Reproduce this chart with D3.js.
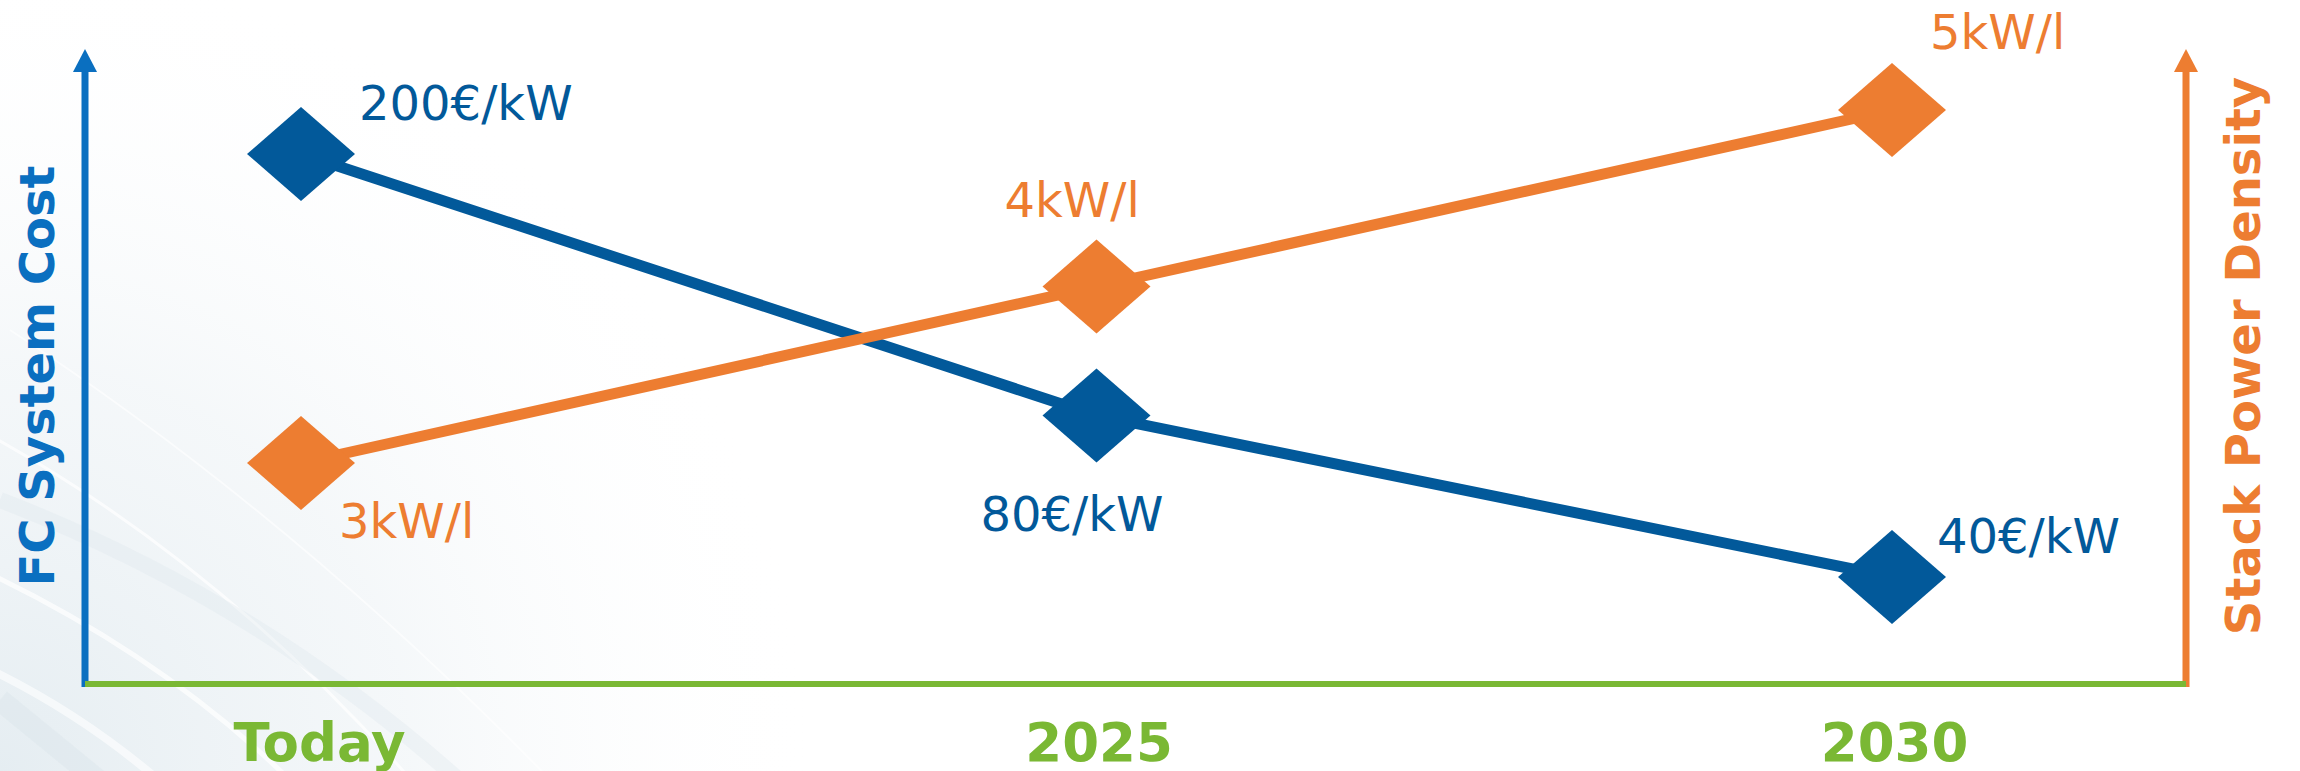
<!DOCTYPE html>
<html>
<head>
<meta charset="utf-8">
<script src="https://cdn.jsdelivr.net/npm/d3@7"></script>
<style>
  html, body { margin: 0; padding: 0; background: #ffffff; }
  svg { display: block; }
</style>
</head>
<body>
<script>
// Roadmap: fuel cell system cost vs. stack power density
const categories = ["Today", "2025", "2030"];
const costValues = [200, 80, 40];      // €/kW
const densityValues = [3, 4, 5];       // kW/l
const costAxisTitle = "FC System Cost";
const densityAxisTitle = "Stack Power Density";

const W = 2300, H = 771;
const colors = {
  cost: "#02599A",
  density: "#ED7D31",
  costAxis: "#0A6FC0",
  time: "#7AB834"
};
const font = "'DejaVu Sans', Verdana, sans-serif";

// value label offsets from each marker centre
const costLabelOffset = [[58, -34], [-116, 116], [45, -24]];
const densityLabelOffset = [[38, 75], [-92, -70], [38, -61]];

const svg = d3.select("body").append("svg")
  .attr("width", W).attr("height", H);

// soft decorative backdrop in the lower-left corner
const defs = svg.append("defs");
const grad = defs.append("radialGradient")
  .attr("id", "haze").attr("gradientUnits", "userSpaceOnUse")
  .attr("cx", 0).attr("cy", H).attr("r", 820);
grad.append("stop").attr("offset", "0%").attr("stop-color", "#e2ebf0").attr("stop-opacity", 0.9);
grad.append("stop").attr("offset", "50%").attr("stop-color", "#eef3f6").attr("stop-opacity", 0.6);
grad.append("stop").attr("offset", "100%").attr("stop-color", "#ffffff").attr("stop-opacity", 0);
svg.append("rect").attr("width", W).attr("height", H).attr("fill", "url(#haze)");

const streaks = svg.append("g").attr("fill", "none");
[
  ["M -20 430 Q 220 560 420 790", 3, "#ffffff", 0.7],
  ["M -40 560 Q 160 650 300 790", 5, "#ffffff", 0.7],
  ["M 10 330 Q 300 520 560 790", 2, "#ffffff", 0.6],
  ["M -30 660 Q 80 710 170 790", 8, "#ffffff", 0.6],
  ["M 0 500 Q 260 600 470 790", 16, "#dce6ec", 0.3],
  ["M 0 700 L 110 790", 22, "#d8e3e9", 0.35]
].forEach(([d, w, c, o]) => {
  streaks.append("path").attr("d", d).attr("stroke", c)
    .attr("stroke-width", w).attr("stroke-opacity", o);
});

// scales
const x = d3.scalePoint().domain(categories).range([301, 1892]);
const yCost = d3.scalePow().exponent(0.25).domain([40, 200]).range([577, 154]);
const yDensity = d3.scaleLinear().domain([3, 5]).range([463, 110]);

// frame: time axis and the two value axes with arrow heads
const axisLeftX = 85, axisRightX = 2186, axisBottomY = 684, axisTopY = 49;

function arrowAxis(xPos, color) {
  svg.append("line")
    .attr("x1", xPos).attr("x2", xPos)
    .attr("y1", axisBottomY + 3).attr("y2", axisTopY + 20)
    .attr("stroke", color).attr("stroke-width", 7);
  svg.append("path")
    .attr("d", `M${xPos},${axisTopY} L${xPos + 12},${axisTopY + 23} L${xPos - 12},${axisTopY + 23} Z`)
    .attr("fill", color);
}
arrowAxis(axisLeftX, colors.costAxis);
arrowAxis(axisRightX, colors.density);

svg.append("line")
  .attr("x1", axisLeftX).attr("x2", axisRightX)
  .attr("y1", axisBottomY).attr("y2", axisBottomY)
  .attr("stroke", colors.time).attr("stroke-width", 6);

// category labels along the time axis
const xAxis = svg.append("g")
  .attr("transform", `translate(2,${axisBottomY})`)
  .call(d3.axisBottom(x).tickSize(0).tickPadding(39));
xAxis.select(".domain").remove();
xAxis.selectAll("text")
  .attr("fill", colors.time)
  .attr("font-family", font)
  .attr("font-weight", "bold")
  .attr("font-size", 53)
  .attr("dy", "0.71em");
xAxis.selectAll(".tick").filter(d => d === "Today").select("text").attr("dx", 16);

// axis titles
svg.append("text")
  .attr("transform", "translate(54,376) rotate(-90)")
  .attr("text-anchor", "middle")
  .attr("font-family", font).attr("font-weight", "bold").attr("font-size", 48)
  .attr("fill", colors.costAxis)
  .text(costAxisTitle);

svg.append("text")
  .attr("transform", "translate(2260,356) rotate(-90)")
  .attr("text-anchor", "middle")
  .attr("font-family", font).attr("font-weight", "bold").attr("font-size", 48)
  .attr("fill", colors.density)
  .text(densityAxisTitle);

// series drawing: thick connecting line, diamond markers, value labels
const diamond = (hw, hh) => `M0,${-hh} L${hw},0 L0,${hh} L${-hw},0 Z`;

function drawSeries(values, y, color, fmt, offsets) {
  const g = svg.append("g");
  const pts = values.map((v, i) => ({ cat: categories[i], v, i }));
  g.append("path")
    .datum(pts)
    .attr("fill", "none")
    .attr("stroke", color)
    .attr("stroke-width", 11)
    .attr("d", d3.line().x(d => x(d.cat)).y(d => y(d.v)));
  g.selectAll(".marker").data(pts).join("path")
    .attr("class", "marker")
    .attr("transform", d => `translate(${x(d.cat)},${y(d.v)})`)
    .attr("d", diamond(54, 47))
    .attr("fill", color);
  g.selectAll(".value").data(pts).join("text")
    .attr("class", "value")
    .attr("x", d => x(d.cat) + offsets[d.i][0])
    .attr("y", d => y(d.v) + offsets[d.i][1])
    .attr("font-family", font)
    .attr("font-size", 48)
    .attr("fill", color)
    .text(d => fmt(d.v));
}

drawSeries(costValues, yCost, colors.cost, v => `${v}€/kW`, costLabelOffset);
drawSeries(densityValues, yDensity, colors.density, v => `${v}kW/l`, densityLabelOffset);
</script>
</body>
</html>
